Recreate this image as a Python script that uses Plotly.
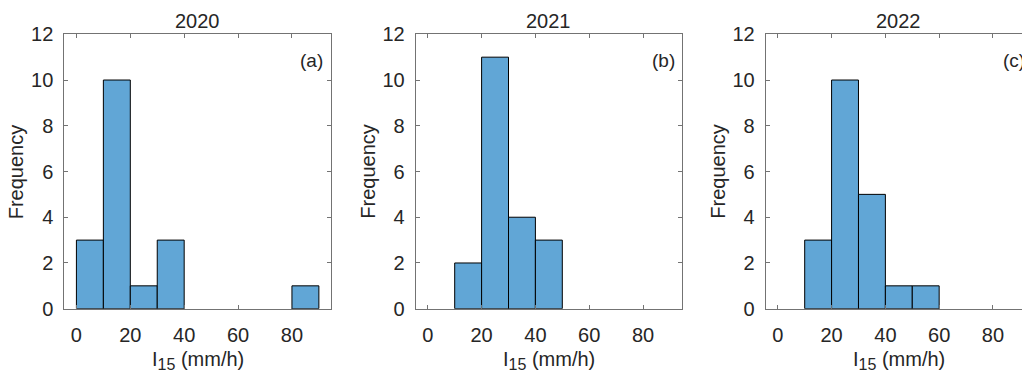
import plotly.graph_objects as go

# ---- data (histogram counts) ----
years = ["2020", "2021", "2022"]
panel_labels = ["(a)", "(b)", "(c)"]
bin_width = 10
edges_2020 = [0, 10, 20, 30, 40, 50, 60, 70, 80]
counts_2020 = [3, 10, 1, 3, 0, 0, 0, 0, 1]
edges_2021 = [10, 20, 30, 40]
counts_2021 = [2, 11, 4, 3]
edges_2022 = [10, 20, 30, 40, 50]
counts_2022 = [3, 10, 5, 1, 1]
x_ticks = [0, 20, 40, 60, 80]
y_ticks = [0, 2, 4, 6, 8, 10, 12]

W, H = 1022, 377
FONT = "Liberation Sans, Arial, sans-serif"
TXT = "#262626"
AX = "rgb(115,115,115)"
BAR = "rgb(97,166,214)"
FS = 20

# plot area pixel geometry
plot_left = [64.3, 415.7, 765.7]
plot_right = [331.0, 682.0, 1022.0]
ptop, pbot = 34.3, 308.7
xranges = [[-4.5, 94.5], [-4.5, 94.5], [-4.5, 90.8]]
px_per_unit = 266.5 / 99.0

fig = go.Figure()
data = [(edges_2020, counts_2020), (edges_2021, counts_2021), (edges_2022, counts_2022)]

for i, (edges, counts) in enumerate(data):
    xs = [e + bin_width / 2 for e, c in zip(edges, counts) if c > 0]
    ys = [c for c in counts if c > 0]
    xa = "x" if i == 0 else f"x{i+1}"
    ya = "y" if i == 0 else f"y{i+1}"
    fig.add_trace(go.Bar(
        x=xs, y=ys, width=bin_width, xaxis=xa, yaxis=ya,
        marker=dict(color=BAR, line=dict(color="black", width=1)),
        showlegend=False, hoverinfo="skip",
    ))

    n = "" if i == 0 else str(i + 1)
    dom_x = [plot_left[i] / W, min(plot_right[i] / W, 1.0)]
    dom_y = [1 - pbot / H, 1 - ptop / H]
    fig.layout["xaxis" + n] = dict(
        domain=dom_x, range=xranges[i], anchor="y" + n,
        tickvals=x_ticks, ticks="inside", ticklen=4, tickcolor=AX,
        showline=True, linecolor=AX, linewidth=1, mirror="ticks",
        showgrid=False, zeroline=False, ticklabelstandoff=8, automargin=False,
        tickfont=dict(family=FONT, size=FS, color=TXT), fixedrange=True,
    )
    fig.layout["yaxis" + n] = dict(
        domain=dom_y, range=[0, 12], anchor="x" + n,
        tickvals=y_ticks, ticks="inside", ticklen=4, tickcolor=AX,
        showline=True, linecolor=AX, linewidth=1,
        mirror=("ticks" if i < 2 else False),
        showgrid=False, zeroline=False, ticklabelstandoff=6, automargin=False,
        tickfont=dict(family=FONT, size=FS, color=TXT), fixedrange=True,
    )

    cx = plot_left[i] + 266.5 / 2
    # subplot title
    fig.add_annotation(text=years[i], xref="paper", yref="paper",
                       x=cx / W, y=1 - 21.5 / H, xanchor="center", yanchor="middle",
                       showarrow=False, font=dict(family=FONT, size=FS, color=TXT))
    # y title
    fig.add_annotation(text="Frequency", xref="paper", yref="paper",
                       x=(plot_left[i] - 47.5) / W, y=1 - ((ptop + pbot) / 2) / H,
                       xanchor="center", yanchor="middle", textangle=-90,
                       showarrow=False, font=dict(family=FONT, size=FS, color=TXT))
    # x title
    fig.add_annotation(text='I<sub><span style="font-size:16px">15</span></sub> (mm/h)',
                       xref="paper", yref="paper",
                       x=cx / W, y=1 - 360 / H, xanchor="center", yanchor="middle",
                       showarrow=False, font=dict(family=FONT, size=FS, color=TXT))
    # panel label (paper coords so the cut-off (c) is still drawn)
    lab_px = plot_left[i] + (92.5 - xranges[i][0]) * px_per_unit
    fig.add_annotation(text=panel_labels[i], xref="paper", yref="paper",
                       x=lab_px / W, y=1 - 60 / H, xanchor="right", yanchor="middle",
                       showarrow=False, font=dict(family=FONT, size=19, color=TXT))

fig.update_layout(
    width=W, height=H, margin=dict(l=0, r=0, t=0, b=0, pad=0, autoexpand=False),
    paper_bgcolor="white", plot_bgcolor="white", bargap=0, hovermode=False,
)

fig.write_html(
    "out.html",
    config={"displayModeBar": False, "staticPlot": True},
    post_script="document.body.style.margin='0px';document.body.style.overflow='hidden';",
)
